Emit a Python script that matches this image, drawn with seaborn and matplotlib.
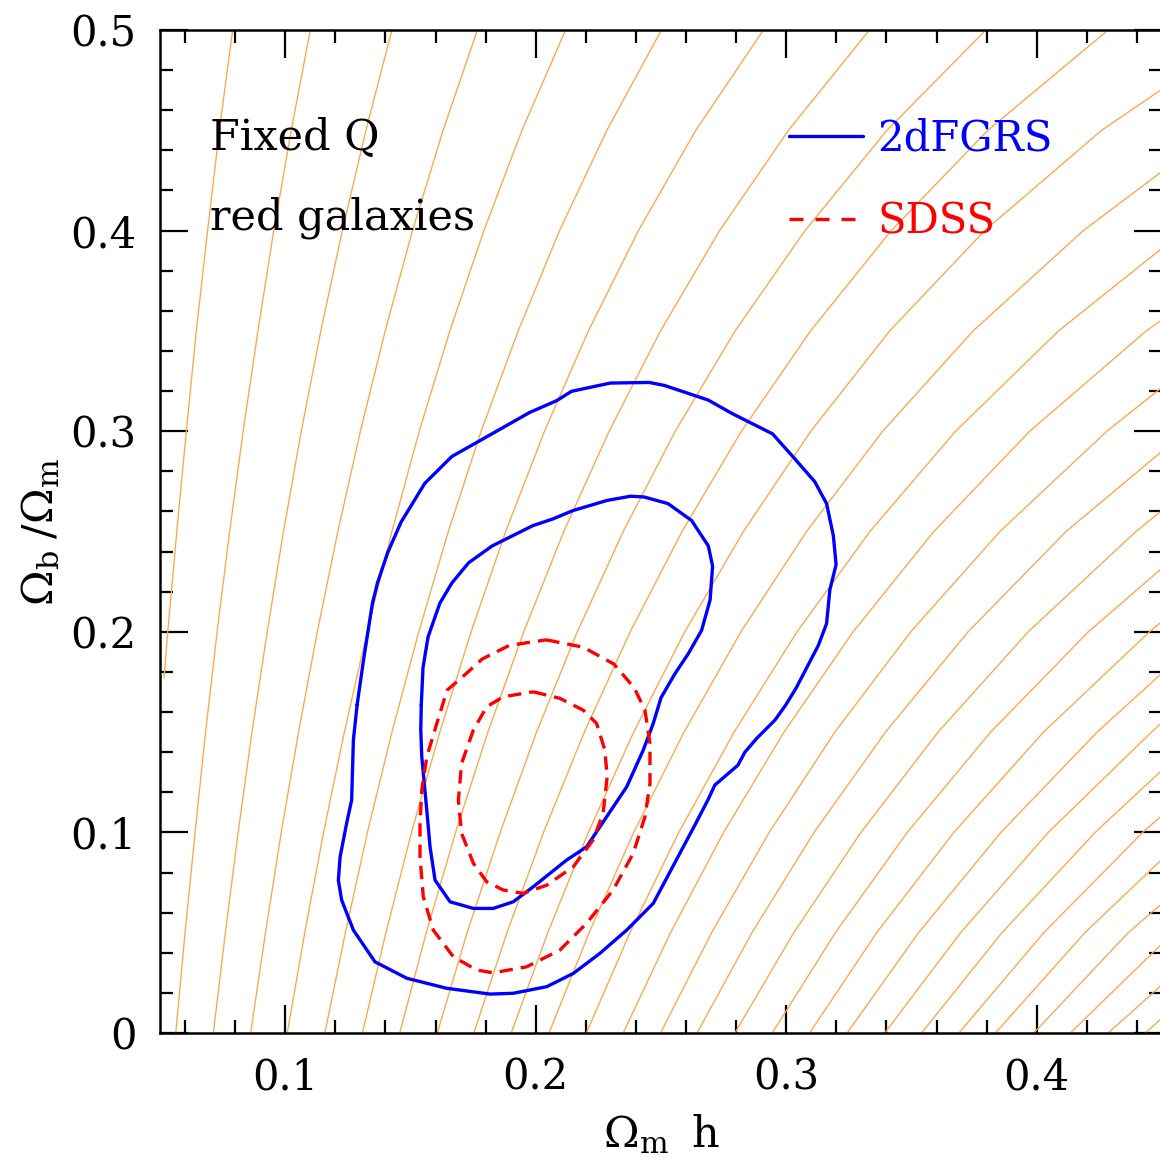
import numpy as np
import pandas as pd
import matplotlib
matplotlib.use("Agg")
import matplotlib.pyplot as plt
import seaborn as sns
from matplotlib.ticker import MultipleLocator, FuncFormatter
from matplotlib.lines import Line2D

nan = np.nan
# ---------------- data ----------------
# orange model curves: x where each curve crosses these y levels
orange_levels = [0.0, 0.05, 0.10, 0.15, 0.20, 0.25, 0.30, 0.35, 0.40, 0.45, 0.50]
orange_x = [
    [0.0563, 0.0600, 0.0640, 0.0682, 0.0728, 0.0778, 0.0832, 0.0891, 0.0954, 0.1024, 0.1100],
    [0.0713, 0.0761, 0.0812, 0.0867, 0.0928, 0.0993, 0.1064, 0.1142, 0.1228, 0.1322, 0.1426],
    [0.0862, 0.0921, 0.0984, 0.1053, 0.1128, 0.1210, 0.1300, 0.1399, 0.1508, 0.1630, 0.1767],
    [0.1008, 0.1078, 0.1153, 0.1236, 0.1327, 0.1426, 0.1535, 0.1657, 0.1793, 0.1945, 0.2119],
    [0.1158, 0.1240, 0.1328, 0.1426, 0.1533, 0.1651, 0.1782, 0.1930, 0.2095, 0.2284, 0.2502],
    [0.1308, 0.1402, 0.1504, 0.1617, 0.1742, 0.1880, 0.2035, 0.2210, 0.2410, 0.2639, 0.2909],
    [0.1457, 0.1563, 0.1680, 0.1809, 0.1952, 0.2112, 0.2293, 0.2498, 0.2734, 0.3009, 0.3332],
    [0.1607, 0.1726, 0.1858, 0.2003, 0.2166, 0.2349, 0.2557, 0.2796, 0.3075, 0.3402, 0.3797],
    [0.1753, 0.1885, 0.2031, 0.2194, 0.2377, 0.2584, 0.2821, 0.3097, 0.3419, 0.3805, 0.4285],
    [0.1902, 0.2048, 0.2210, 0.2391, 0.2595, 0.2829, 0.3098, 0.3413, 0.3792, 0.4259],
    [0.2053, 0.2213, 0.2391, 0.2592, 0.2819, 0.3081, 0.3385, 0.3746, 0.4186],
    [0.2202, 0.2376, 0.2571, 0.2792, 0.3043, 0.3334, 0.3676, 0.4087],
    [0.2349, 0.2538, 0.2750, 0.2991, 0.3267, 0.3589, 0.3972, 0.4437],
    [0.2498, 0.2702, 0.2932, 0.3194, 0.3497, 0.3853, 0.4280],
    [0.2644, 0.2863, 0.3111, 0.3396, 0.3726, 0.4117],
    [0.2795, 0.3030, 0.3298, 0.3606, 0.3966, 0.4396],
    [0.2944, 0.3196, 0.3483, 0.3816, 0.4206],
    [0.3093, 0.3361, 0.3669, 0.4027, 0.4450],
    [0.3243, 0.3528, 0.3857, 0.4241],
    [0.3393, 0.3696, 0.4046, 0.4458],
    [0.3540, 0.3861, 0.4233],
    [0.3689, 0.4028, 0.4423],
    [0.3835, 0.4192],
    [0.3988, 0.4365],
    [0.4134],
    [0.4285],
    [0.4434],
]
# y where each curve leaves through the right edge (x = 0.45); nan = reaches top
orange_exit_y = [nan] * 9 + [0.4705, 0.4295, 0.3912, 0.3555, 0.3219, 0.2900,
                             0.2605, 0.2317, 0.2052, 0.1794, 0.1548, 0.1310,
                             0.1085, 0.0866, 0.0645, 0.0445, 0.0240, 0.0075]
# leftmost curve: starts at the left edge, then crosses y = 0.20 ... 0.50
orange_left_start = (0.0516, 0.177)
orange_left_x = [0.0531, 0.0567, 0.0605, 0.0645, 0.0690, 0.0737, 0.0790]
x_right = 0.45

# 2dFGRS contours (blue, solid)
blue_outer_x = [0.1287, 0.1314, 0.1348, 0.1368, 0.1409, 0.1462, 0.1557, 0.1665,
                0.1773, 0.1975, 0.2083, 0.2143, 0.2298, 0.2453, 0.2514, 0.2689,
                0.2784, 0.2945, 0.3026, 0.3114, 0.3161, 0.3188, 0.3199, 0.3174,
                0.3161, 0.3128, 0.3040, 0.2999, 0.2955, 0.2883, 0.2835, 0.2807,
                0.2715, 0.2687, 0.2635, 0.2575, 0.2469, 0.2363, 0.2256, 0.2150,
                0.2044, 0.1910, 0.1817, 0.1644, 0.1485, 0.1358, 0.1272, 0.1225,
                0.1212, 0.1219, 0.1245, 0.1265, 0.1272]
blue_outer_y = [0.1637, 0.1872, 0.2142, 0.2243, 0.2395, 0.2546, 0.2740, 0.2874,
                0.2950, 0.3093, 0.3152, 0.3199, 0.3240, 0.3243, 0.3228, 0.3155,
                0.3088, 0.2987, 0.2874, 0.2748, 0.2639, 0.2479, 0.2335, 0.2209,
                0.2041, 0.1932, 0.1721, 0.1637, 0.1560, 0.1470, 0.1400, 0.1335,
                0.1236, 0.1161, 0.1036, 0.0895, 0.0646, 0.0513, 0.0397, 0.0297,
                0.0231, 0.0198, 0.0194, 0.0223, 0.0273, 0.0355, 0.0513, 0.0663,
                0.0762, 0.0878, 0.1045, 0.1161, 0.1460]
blue_inner_x = [0.1543, 0.1550, 0.1570, 0.1617, 0.1665, 0.1732, 0.1826, 0.1988,
                0.2069, 0.2150, 0.2285, 0.2379, 0.2433, 0.2528, 0.2622, 0.2689,
                0.2706, 0.2696, 0.2662, 0.2608, 0.2554, 0.2500, 0.2469, 0.2429,
                0.2363, 0.2283, 0.2203, 0.2123, 0.1990, 0.1910, 0.1830, 0.1751,
                0.1658, 0.1598, 0.1578, 0.1565, 0.1545, 0.1541]
blue_inner_y = [0.1637, 0.1822, 0.1974, 0.2142, 0.2243, 0.2344, 0.2428, 0.2529,
                0.2563, 0.2605, 0.2655, 0.2676, 0.2672, 0.2639, 0.2555, 0.2428,
                0.2327, 0.2159, 0.2007, 0.1889, 0.1788, 0.1671, 0.1543, 0.1410,
                0.1227, 0.1078, 0.0928, 0.0862, 0.0729, 0.0654, 0.0621, 0.0621,
                0.0654, 0.0762, 0.0928, 0.1111, 0.1377, 0.1510]

# SDSS contours (red, dashed)
red_outer_x = [0.2042, 0.2190, 0.2312, 0.2393, 0.2436, 0.2456, 0.2456, 0.2436,
               0.2389, 0.2309, 0.2203, 0.2097, 0.1964, 0.1830, 0.1764, 0.1671,
               0.1591, 0.1551, 0.1538, 0.1538, 0.1545, 0.1565, 0.1605, 0.1646,
               0.1705, 0.1786, 0.1894]
red_outer_y = [0.1960, 0.1923, 0.1839, 0.1721, 0.1609, 0.1443, 0.1244, 0.1078,
               0.0895, 0.0713, 0.0547, 0.0414, 0.0330, 0.0300, 0.0314, 0.0380,
               0.0513, 0.0679, 0.0878, 0.1045, 0.1211, 0.1377, 0.1543, 0.1709,
               0.1772, 0.1864, 0.1932]
red_inner_x = [0.1990, 0.2097, 0.2190, 0.2243, 0.2276, 0.2285, 0.2269, 0.2229,
               0.2150, 0.2044, 0.1950, 0.1870, 0.1804, 0.1751, 0.1704, 0.1691,
               0.1704, 0.1751, 0.1804, 0.1870]
red_inner_y = [0.1701, 0.1668, 0.1609, 0.1543, 0.1410, 0.1277, 0.1095, 0.0962,
               0.0829, 0.0737, 0.0696, 0.0713, 0.0754, 0.0846, 0.0995, 0.1161,
               0.1344, 0.1510, 0.1626, 0.1676]

legend_labels = ["2dFGRS", "SDSS"]
annot_lines = ["Fixed Q", "red galaxies"]

# ---------------- build tables ----------------
rows = [(0, orange_left_start[0], orange_left_start[1])]
for xv, yv in zip(orange_left_x, orange_levels[4:]):
    rows.append((0, xv, yv))
for i, (xs, ey) in enumerate(zip(orange_x, orange_exit_y), start=1):
    for xv, yv in zip(xs, orange_levels):
        rows.append((i, xv, yv))
    if not np.isnan(ey):
        rows.append((i, x_right, ey))
df_orange = pd.DataFrame(rows, columns=["curve", "x", "y"])


def closed(xs, ys):
    return pd.DataFrame({"x": list(xs) + [xs[0]], "y": list(ys) + [ys[0]]})


# ---------------- style ----------------
sns.set_theme(style="ticks")
plt.rcParams["font.family"] = ["DejaVu Serif"]
plt.rcParams["mathtext.fontset"] = "dejavuserif"
for k in ["text.color", "axes.labelcolor", "xtick.color", "ytick.color", "axes.edgecolor"]:
    plt.rcParams[k] = "black"

FS = 30
fig = plt.figure(figsize=(11.6, 11.58), dpi=100)
ax = fig.add_axes([160 / 1160, 125 / 1158, 1002 / 1160, 1003 / 1158])

sns.lineplot(data=df_orange, x="x", y="y", units="curve", estimator=None,
             sort=False, color="#ffa54a", lw=0.95, ax=ax, legend=False)

for xs, ys in [(blue_outer_x, blue_outer_y), (blue_inner_x, blue_inner_y)]:
    sns.lineplot(data=closed(xs, ys), x="x", y="y", sort=False, estimator=None,
                 color="#0000ff", lw=2.4, ax=ax)
for xs, ys in [(red_outer_x, red_outer_y), (red_inner_x, red_inner_y)]:
    sns.lineplot(data=closed(xs, ys), x="x", y="y", sort=False, estimator=None,
                 color="#ff0000", lw=2.4, ax=ax)
    ax.lines[-1].set_dashes([4.0, 2.4])

ax.set_xlim(0.05, 0.45)
ax.set_ylim(0.0, 0.5)

fmt = FuncFormatter(lambda v, p: "0" if abs(v) < 1e-9 else f"{v:.1f}")
ax.xaxis.set_major_locator(MultipleLocator(0.1))
ax.xaxis.set_minor_locator(MultipleLocator(0.02))
ax.yaxis.set_major_locator(MultipleLocator(0.1))
ax.yaxis.set_minor_locator(MultipleLocator(0.02))
ax.xaxis.set_major_formatter(fmt)
ax.yaxis.set_major_formatter(fmt)
ax.tick_params(which="both", direction="in", top=True, right=True,
               width=1.6, color="black", labelsize=FS, pad=17)
ax.tick_params(which="major", length=20)
ax.tick_params(which="minor", length=9.5)
for s in ax.spines.values():
    s.set_linewidth(1.8)
    s.set_color("black")

ax.set_xlabel(r"$\Omega_{\mathrm{m}}\;\;\mathrm{h}$", fontsize=FS + 1, labelpad=10)
ax.set_ylabel(r"$\Omega_{\mathrm{b}}\;/\Omega_{\mathrm{m}}$", fontsize=FS + 1, labelpad=6)

ax.text(0.05, 0.880, annot_lines[0], transform=ax.transAxes, fontsize=FS + 1, va="baseline")
ax.text(0.05, 0.8006, annot_lines[1], transform=ax.transAxes, fontsize=FS + 1, va="baseline")

handles = [Line2D([], [], color="#0000ff", lw=2.4),
           Line2D([], [], color="#ff0000", lw=2.4, dashes=[4.2, 3.6])]
ax.legend(handles, legend_labels, loc="upper left", bbox_to_anchor=(0.628, 0.913),
          frameon=False, fontsize=FS, handlelength=1.78, handletextpad=0.34,
          labelspacing=1.0, borderpad=0, borderaxespad=0,
          labelcolor=["#0000ff", "#ff0000"])

fig.savefig("out.png", dpi=100)
